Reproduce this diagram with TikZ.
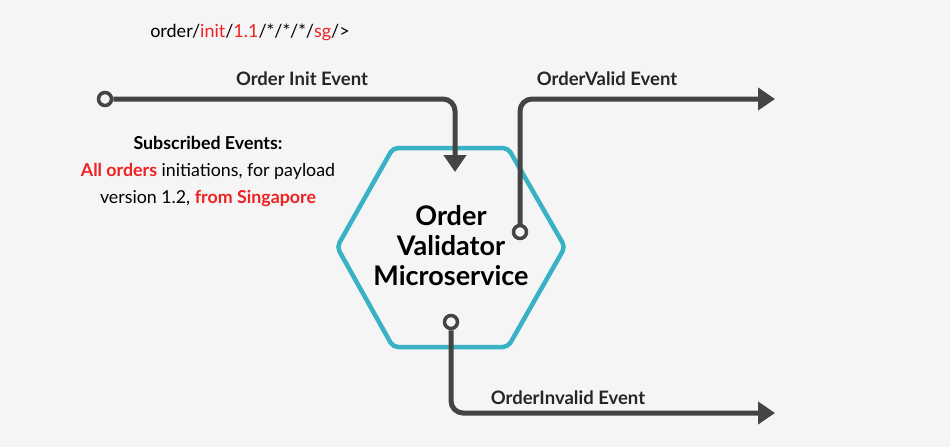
\documentclass[tikz,border=0pt]{standalone}
\usepackage{fontspec}
\setmainfont{Lato}
\usetikzlibrary{
  arrows.meta,
  positioning
}
\definecolor{wire}{HTML}{444444}
\definecolor{hexline}{HTML}{38B2C4}
\definecolor{hot}{HTML}{EE2222}
\definecolor{paper}{HTML}{F5F5F5}
\tikzset{
%
  % For the event wires.
  wire/.style={
    draw=wire,
    line width=5pt,
    rounded corners=12pt},
%
  % For wires that end in an arrow.
  out wire/.style={
    wire,
    -{Triangle[length=17pt,width=22pt]}},
%
  % For the open end points.
  port/.style={
    circle,
    draw=wire,
    fill=paper,
    line width=3.5pt,
    minimum size=13pt,
    inner sep=0pt},
%
  % For the wire labels.
  label text/.style={
    font=\fontsize{18.5}{22}\selectfont\bfseries,
    text=black!85}
}
\begin{document}
\begin{tikzpicture}[x=1pt,y=-1pt]
  \useasboundingbox[fill=paper] (0,0) rectangle (950,447);

  \draw[hexline, line width=4.5pt, fill=paper, rounded corners=5pt]
    (337,247) -- (393,148) -- (508,148) -- (565,247)
    -- (508,347) -- (393,347) -- cycle;
  \node[align=center, font=\fontsize{27}{30}\selectfont\bfseries] (svc)
    at (451,246) {Order\\Validator\\Microservice};

  \node[font=\fontsize{18}{21}\selectfont] (topic) at (250,32)
    {order/\textcolor{hot}{init}/\textcolor{hot}{1.1}/*/*/*/\textcolor{hot}{sg}/>};

  \node[align=center, font=\fontsize{17.8}{27}\selectfont] (subs) at (208,171)
    {\textbf{Subscribed Events:}\\
     \textcolor{hot}{\textbf{All orders}} initiations, for payload\\
     version 1.2, \textcolor{hot}{\textbf{from Singapore}}};

  \node[port] (in) at (105,99) {};
  \coordinate (in end) at (455,172);
  \draw[out wire] (in) -- (455,99) -- (in end);
  \node[label text] (inlbl) at (302,79) {Order Init Event};

  \node[port] (valid) at (520,232) {};
  \coordinate (valid end) at (775,99);
  \draw[out wire] (valid) -- (520,99) -- (valid end);
  \node[label text] (validlbl) at (607,79) {OrderValid Event};

  \node[port] (invalid) at (451,322) {};
  \coordinate (invalid end) at (775,413);
  \draw[out wire] (invalid) -- (451,413) -- (invalid end);
  \node[label text] (invalidlbl) at (568,398) {OrderInvalid Event};
\end{tikzpicture}
\end{document}
